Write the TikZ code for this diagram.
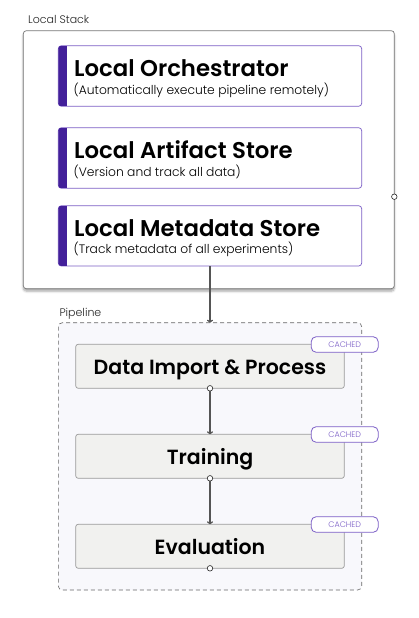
\documentclass[tikz,border=0pt]{standalone}
\usepackage{fontspec}
\setmainfont{Poppins}[BoldFont={Poppins SemiBold}]
\newfontfamily\lightfont{Poppins Light}
\usetikzlibrary{arrows.meta,shadows.blur}
\definecolor{barpurple}{HTML}{43209A}
\definecolor{edgepurple}{HTML}{7B5EC6}
\definecolor{stepfill}{HTML}{F1F1EF}
\definecolor{stepedge}{HTML}{9A9A9A}
\definecolor{pipefill}{HTML}{F8F8FC}
\definecolor{lineclr}{HTML}{555555}
\tikzset{
  stackbox/.style={draw=lineclr!80,line width=0.7pt,rounded corners=3pt,fill=white},
  compbox/.style={draw=edgepurple,line width=0.7pt,rounded corners=3pt,fill=white},
  stepbox/.style={draw=stepedge,line width=0.7pt,rounded corners=2.5pt,fill=stepfill},
  pipebox/.style={draw=lineclr!90,dashed,dash pattern=on 4pt off 3pt,line width=0.6pt,rounded corners=4pt,fill=pipefill},
  badge/.style={draw=edgepurple,line width=0.8pt,rounded corners=5pt,fill=white,minimum width=67pt,minimum height=15.6pt,inner sep=0pt,text=edgepurple,font=\lightfont\fontsize{8}{9}\selectfont},
  port/.style={circle,draw=black!85,fill=white,line width=0.6pt,minimum size=5.5pt,inner sep=0pt},
  conn/.style={draw=lineclr,line width=1.2pt,-{To[length=3pt,width=6pt]}},
  title/.style={anchor=base west,inner sep=0pt,font=\fontsize{22.8}{26}\selectfont\bfseries},
  sub/.style={anchor=base west,inner sep=0pt,font=\lightfont\fontsize{12.3}{14}\selectfont},
  steptxt/.style={anchor=base,inner sep=0pt,font=\fontsize{20.5}{24}\selectfont\bfseries},
  grouplbl/.style={anchor=base west,inner sep=0pt,font=\lightfont\fontsize{11}{12}\selectfont,text=black!85},
}
\begin{document}
\begin{tikzpicture}[x=1pt,y=-1pt]
\useasboundingbox (0,0) rectangle (419,618);
% Local stack
\node[grouplbl] (lslbl) at (28,24) {Local Stack};
\draw[stackbox,blur shadow={shadow blur steps=6,shadow xshift=0pt,shadow yshift=-2.5pt,shadow opacity=35}] (23.3,30.7) rectangle (394.3,288.7);
\coordinate (lsnw) at (23.3,30.7);
\node[port] (lsport) at (394.3,196.7) {};
% components
\foreach \n/\t/\b in {orch/45.7/106.3, art/127.7/188.3, meta/205.7/266}{
  \draw[compbox] (58.3,\t) rectangle (361.7,\b);
  \begin{scope}
    \clip[rounded corners=3pt] (58.3,\t) rectangle (361.7,\b);
    \fill[barpurple] (58.3,\t) rectangle (66.5,\b);
  \end{scope}
}
\node[title] (t1) at (74,76.7) {Local Orchestrator};
\node[sub] (s1) at (73.5,94.5) {(Automatically execute pipeline remotely)};
\node[title] (t2) at (74,158.3) {Local Artifact Store};
\node[sub] (s2) at (73.5,176.5) {(Version and track all data)};
\node[title] (t3) at (74,236) {Local Metadata Store};
\node[sub] (s3) at (73.5,253.5) {(Track metadata of all experiments)};
\coordinate (metabot) at (210,266);
% pipeline
\node[grouplbl] (pllbl) at (59.3,316.7) {Pipeline};
\draw[pipebox] (58.3,322.7) rectangle (361.7,590);
\coordinate (pltop) at (210,322.7);
\draw[conn] (metabot) -- (pltop);
% steps
\draw[stepbox] (75.7,344.3) rectangle (344.3,388.3);
\draw[stepbox] (75.7,434.3) rectangle (344.3,478.3);
\draw[stepbox] (75.7,524.3) rectangle (344.3,568.3);
\node[steptxt] (st1) at (210,374) {Data Import \& Process};
\node[steptxt] (st2) at (210,464) {Training};
\node[steptxt] (st3) at (210,554) {Evaluation};
\coordinate (top2) at (210,434.3);
\coordinate (top3) at (210,524.3);
\node[port] (p1) at (210,388.3) {};
\node[port] (p2) at (210,478.3) {};
\node[port] (p3) at (210,568.3) {};
\draw[conn] (p1) -- (top2);
\draw[conn] (p2) -- (top3);
\node[badge] (c1) at (344.7,344.5) {CACHED};
\node[badge] (c2) at (344.7,434.5) {CACHED};
\node[badge] (c3) at (344.7,524.5) {CACHED};
\end{tikzpicture}
\end{document}
